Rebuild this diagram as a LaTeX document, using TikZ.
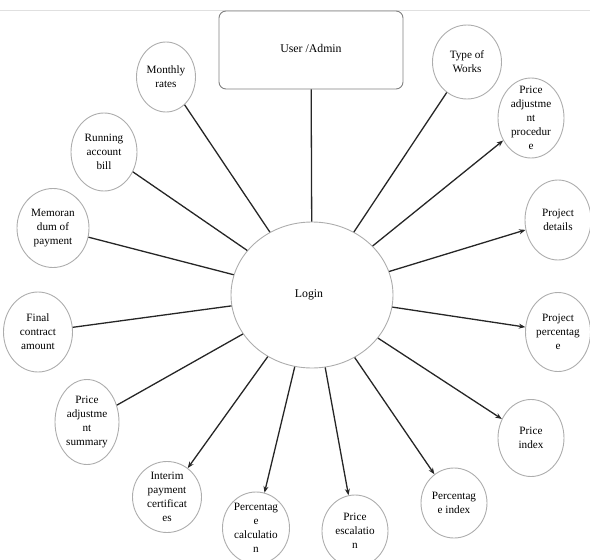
\documentclass[tikz,border=0pt]{standalone}
\usepackage{fontspec}
\setmainfont{Liberation Serif}
\usetikzlibrary{shapes.geometric,arrows.meta}
\newcommand\mkbub[6]{%
  \node[bub,minimum width=#3,minimum height=#4] (#1) at (#2) {};
  \node[txt] (#1-t) at ([yshift=#5]#1.center) {#6};}
\begin{document}
\begin{tikzpicture}[x=1pt,y=-1pt,
  bub/.style={ellipse,draw=black!32,line width=0.9pt,inner sep=0pt},
  txt/.style={inner sep=0pt,align=center,font=\fontsize{11.2}{14}\selectfont},
  link/.style={draw=black!85,line width=1.3pt},
  arr/.style={link,-{Stealth[length=6.5pt,width=5pt]}}]
\useasboundingbox (0,0) rectangle (590,560);
\clip (0,0) rectangle (590,560);
\draw[black!12,line width=0.8pt] (0,10) -- (590,10);
\node[draw=black!50,line width=0.9pt,rounded corners=7pt,minimum width=184pt,minimum height=78pt,
      font=\fontsize{11.8}{14}\selectfont,text depth=0pt] (user) at (311,50) {\raisebox{3pt}{User /Admin}};
\node[ellipse,draw=black!32,line width=0.9pt,minimum width=162pt,minimum height=146pt,
      font=\fontsize{11.8}{14}\selectfont] (login) at (312,295) {Login\hspace*{6pt}};
\mkbub{mr}{166,77}{59pt}{70pt}{0pt}{Monthly\\rates}
\mkbub{rab}{104,152}{66pt}{78pt}{0pt}{Running\\account\\bill}
\mkbub{mem}{53,228}{72pt}{79pt}{0pt}{Memoran\\dum of\\payment}
\mkbub{tw}{467,62}{69pt}{74pt}{0pt}{Type of\\Works}
\mkbub{pap}{531,118}{66pt}{80pt}{0pt}{Price\\adjustme\\nt\\procedur\\e}
\mkbub{pd}{558,220}{66pt}{80pt}{0pt}{Project\\details}
\mkbub{fca}{38,332}{69pt}{80pt}{0pt}{Final\\contract\\amount}
\mkbub{pas}{87,422}{64pt}{85pt}{0pt}{Price\\adjustme\\nt\\summary}
\mkbub{ipc}{167,497}{69pt}{71pt}{0pt}{Interim\\payment\\certificat\\es}
\mkbub{pc}{256,528}{67pt}{72pt}{0pt}{Percentag\\e\\calculatio\\n}
\mkbub{pp}{558,332}{65pt}{79pt}{0pt}{Project\\percentag\\e}
\mkbub{pi}{531,438}{66pt}{77pt}{0pt}{Price\\index}
\mkbub{pix}{454,503}{66pt}{70pt}{0pt}{Percentag\\e index}
\mkbub{pe}{355,531}{66pt}{72pt}{0pt}{Price\\escalatio\\n}
\draw[link] (user) -- (login);
\draw[link] (mr) -- (login);
\draw[link] (rab) -- (login);
\draw[link] (mem) -- (login);
\draw[link] (fca) -- (login);
\draw[link] (pas) -- (login);
\draw[link] (tw) -- (login);
\draw[arr] (login) -- (pap);
\draw[arr] (login) -- (pd);
\draw[arr] (login) -- (pp);
\draw[arr] (login) -- (pi);
\draw[arr] (login) -- (pix);
\draw[arr] (login) -- (pe);
\draw[arr] (login) -- (pc);
\draw[arr] (login) -- (ipc);
\end{tikzpicture}
\end{document}
